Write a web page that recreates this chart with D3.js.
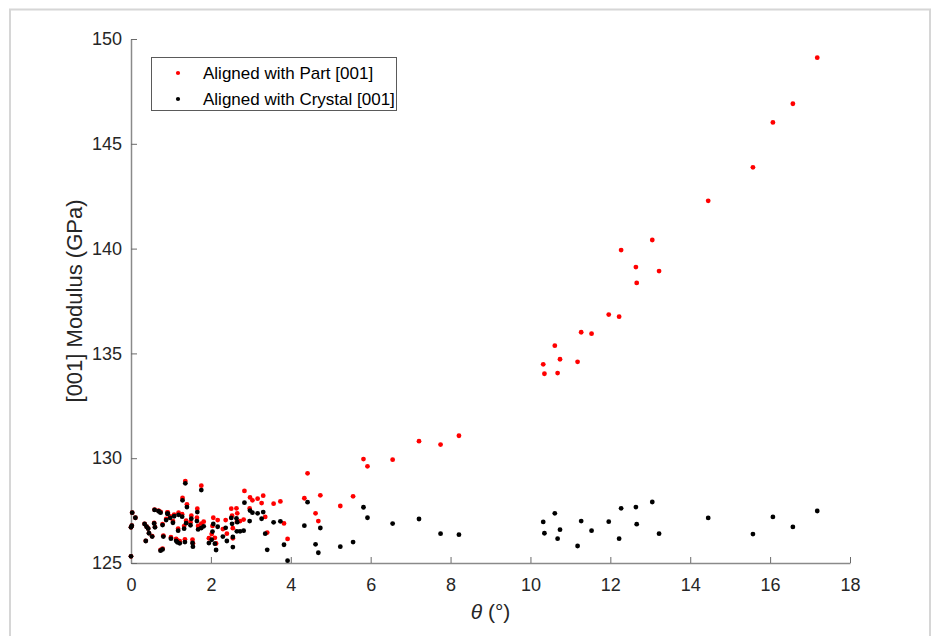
<!DOCTYPE html>
<html>
<head>
<meta charset="utf-8">
<script src="https://cdn.jsdelivr.net/npm/d3@7"></script>
<style>
	body { margin: 0; background: #ffffff; }
	svg { display: block; font-family: "Liberation Sans", Arial, Helvetica, sans-serif; }
</style>
</head>
<body>
<div id="chart"></div>
<script>
// misorientation angle of each grain (deg)
const theta = [
	0.00, 0.00, 0.02, 0.03, 0.11, 0.34, 0.37, 0.39, 0.43, 0.45,
	0.53, 0.58, 0.59, 0.60, 0.69, 0.74, 0.74, 0.79, 0.79, 0.81,
	0.88, 0.91, 0.92, 0.98, 1.00, 1.05, 1.08, 1.13, 1.16, 1.18,
	1.19, 1.22, 1.28, 1.29, 1.33, 1.35, 1.36, 1.38, 1.40, 1.49,
	1.51, 1.54, 1.55, 1.65, 1.66, 1.68, 1.76, 1.76, 1.82, 1.95,
	2.02, 2.04, 2.06, 2.10, 2.13, 2.17, 2.30, 2.37, 2.40, 2.51,
	2.53, 2.55, 2.55, 2.64, 2.65, 2.66, 2.73, 2.82, 2.84, 2.97,
	2.98, 3.04, 3.17, 3.27, 3.31, 3.36, 3.41, 3.57, 3.74, 3.83,
	3.92, 4.34, 4.42, 4.62, 4.69, 4.74, 5.24, 5.56, 5.82, 5.92,
	6.55, 7.21, 7.75, 8.21, 10.32, 10.35, 10.61, 10.68, 10.74, 11.18,
	11.27, 11.53, 11.96, 12.22, 12.27, 12.64, 12.66, 13.05, 13.22, 14.45,
	15.57, 16.07, 16.57, 17.18
];

// [001] modulus along the part [001] direction (GPa)
const modulusPart = [
	125.32, 126.70, 126.78, 127.40, 127.16, 126.87, 126.06, 126.74, 126.65, 126.43,
	126.28, 126.91, 127.55, 126.72, 127.50, 127.44, 125.63, 125.69, 126.85, 126.31,
	127.10, 127.41, 127.42, 127.22, 126.23, 127.00, 127.31, 126.15, 126.08, 126.64,
	127.40, 126.04, 127.33, 128.10, 126.76, 126.13, 128.91, 127.02, 127.80, 126.95,
	127.26, 126.11, 125.94, 127.16, 127.59, 126.77, 128.69, 126.88, 126.97, 126.18,
	126.38, 126.77, 127.16, 126.20, 125.93, 127.05, 126.62, 127.05, 126.40, 127.59,
	127.26, 126.66, 126.18, 127.61, 126.97, 127.37, 127.00, 127.07, 128.44, 127.60,
	128.13, 127.99, 128.07, 127.86, 128.21, 127.20, 126.45, 127.83, 127.94, 126.89,
	126.15, 128.09, 129.28, 127.37, 127.00, 128.23, 127.72, 128.18, 129.96, 129.61,
	129.93, 130.81, 130.65, 131.07, 134.48, 134.03, 135.37, 134.06, 134.72, 134.60,
	136.01, 135.94, 136.85, 136.75, 139.93, 139.12, 138.36, 140.41, 138.93, 142.28,
	143.88, 146.02, 146.91, 149.11
];

// [001] modulus along the crystal [001] direction (GPa)
const modulusCrystal = [
	125.32, 126.70, 126.78, 127.40, 127.16, 126.86, 126.05, 126.73, 126.64, 126.42,
	126.26, 126.89, 127.53, 126.70, 127.47, 127.40, 125.59, 125.65, 126.81, 126.26,
	127.05, 127.35, 127.36, 127.15, 126.16, 126.92, 127.23, 126.06, 125.99, 126.54,
	127.30, 125.94, 127.21, 127.99, 126.64, 126.00, 128.80, 126.90, 127.67, 126.80,
	127.11, 125.96, 125.78, 127.00, 127.43, 126.60, 128.48, 126.67, 126.75, 125.95,
	126.11, 126.50, 126.86, 125.92, 125.62, 126.73, 126.26, 126.68, 126.05, 127.15,
	126.87, 126.24, 125.76, 127.13, 126.51, 126.95, 126.51, 126.54, 127.88, 127.00,
	127.50, 127.40, 127.37, 127.11, 127.43, 126.40, 125.63, 126.94, 126.99, 125.87,
	125.11, 126.78, 127.90, 125.89, 125.49, 126.67, 125.78, 126.00, 127.66, 127.16,
	126.88, 127.10, 126.40, 126.35, 126.96, 126.42, 127.37, 126.16, 126.59, 125.81,
	127.00, 126.54, 126.97, 126.16, 127.61, 127.67, 126.85, 127.91, 126.40, 127.15,
	126.38, 127.20, 126.72, 127.48
];

const xTicks = [0, 2, 4, 6, 8, 10, 12, 14, 16, 18];
const yTicks = [125, 130, 135, 140, 145, 150];
const seriesNames = ["Aligned with Part [001]", "Aligned with Crystal [001]"];
const seriesColors = ["#ff0000", "#000000"];

const width = 933, height = 636;
const margin = {top: 39, right: 83, bottom: 73, left: 131};

const svg = d3.select("#chart").append("svg")
	.attr("width", width)
	.attr("height", height);

svg.append("rect")
	.attr("width", width)
	.attr("height", height)
	.attr("fill", "#ffffff");

// light figure frame
svg.append("path")
	.attr("d", `M10,${height} V9.5 H930 V${height}`)
	.attr("fill", "none")
	.attr("stroke", "#d6d6d6")
	.attr("stroke-width", 2);

const x = d3.scaleLinear()
	.domain([0, 18])
	.range([margin.left, width - margin.right]);

const y = d3.scaleLinear()
	.domain([125, 150])
	.range([height - margin.bottom, margin.top]);

const xAxis = d3.axisBottom(x)
	.tickValues(xTicks)
	.tickFormat(d3.format("d"))
	.tickSizeInner(-6)
	.tickSizeOuter(0)
	.tickPadding(15);

const yAxis = d3.axisLeft(y)
	.tickValues(yTicks)
	.tickFormat(d3.format("d"))
	.tickSizeInner(-6)
	.tickSizeOuter(0)
	.tickPadding(9);

const gx = svg.append("g")
	.attr("class", "x-axis")
	.attr("transform", `translate(0,${height - margin.bottom})`)
	.call(xAxis);

const gy = svg.append("g")
	.attr("class", "y-axis")
	.attr("transform", `translate(${margin.left},0)`)
	.call(yAxis);

[gx, gy].forEach(g => {
	g.select(".domain").attr("stroke", "#8a8a8a").attr("stroke-width", 1.5);
	g.selectAll(".tick line").attr("stroke", "#6a6a6a").attr("stroke-width", 1);
	g.selectAll(".tick text")
		.attr("fill", "#262626")
		.style("font-size", "18px")
		.style("font-family", "'Liberation Sans', Arial, sans-serif");
});

// axis labels
const xLabel = svg.append("text")
	.attr("x", (x.range()[0] + x.range()[1]) / 2)
	.attr("y", 619)
	.attr("text-anchor", "middle")
	.attr("fill", "#262626")
	.style("font-size", "21px");
xLabel.append("tspan").style("font-style", "italic").text("θ");
xLabel.append("tspan").text(" (°)");

svg.append("text")
	.attr("transform", `translate(82,${(y.range()[0] + y.range()[1]) / 2}) rotate(-90)`)
	.attr("text-anchor", "middle")
	.attr("fill", "#262626")
	.style("font-size", "22px")
	.text("[001] Modulus (GPa)");

// points: part first, crystal on top
const partData = theta.map((t, i) => ({t: t, v: modulusPart[i]}));
const crystalData = theta.map((t, i) => ({t: t, v: modulusCrystal[i]}));

[partData, crystalData].forEach((data, k) => {
	svg.append("g")
		.selectAll("circle")
		.data(data)
		.enter().append("circle")
		.attr("cx", d => x(d.t))
		.attr("cy", d => y(d.v))
		.attr("r", 2.4)
		.attr("fill", seriesColors[k]);
});

// legend
const legend = svg.append("g").attr("transform", "translate(151,57)");
legend.append("rect")
	.attr("x", 0.5)
	.attr("y", 0.5)
	.attr("width", 245)
	.attr("height", 53)
	.attr("fill", "#ffffff")
	.attr("stroke", "#5a5a5a")
	.attr("stroke-width", 1);

seriesNames.forEach((name, i) => {
	legend.append("circle")
		.attr("cx", 27)
		.attr("cy", 16 + i * 26)
		.attr("r", 2.1)
		.attr("fill", seriesColors[i]);
	legend.append("text")
		.attr("x", 52)
		.attr("y", 22 + i * 26)
		.attr("fill", "#000000")
		.style("font-size", "17px")
		.text(name);
});
</script>
</body>
</html>
